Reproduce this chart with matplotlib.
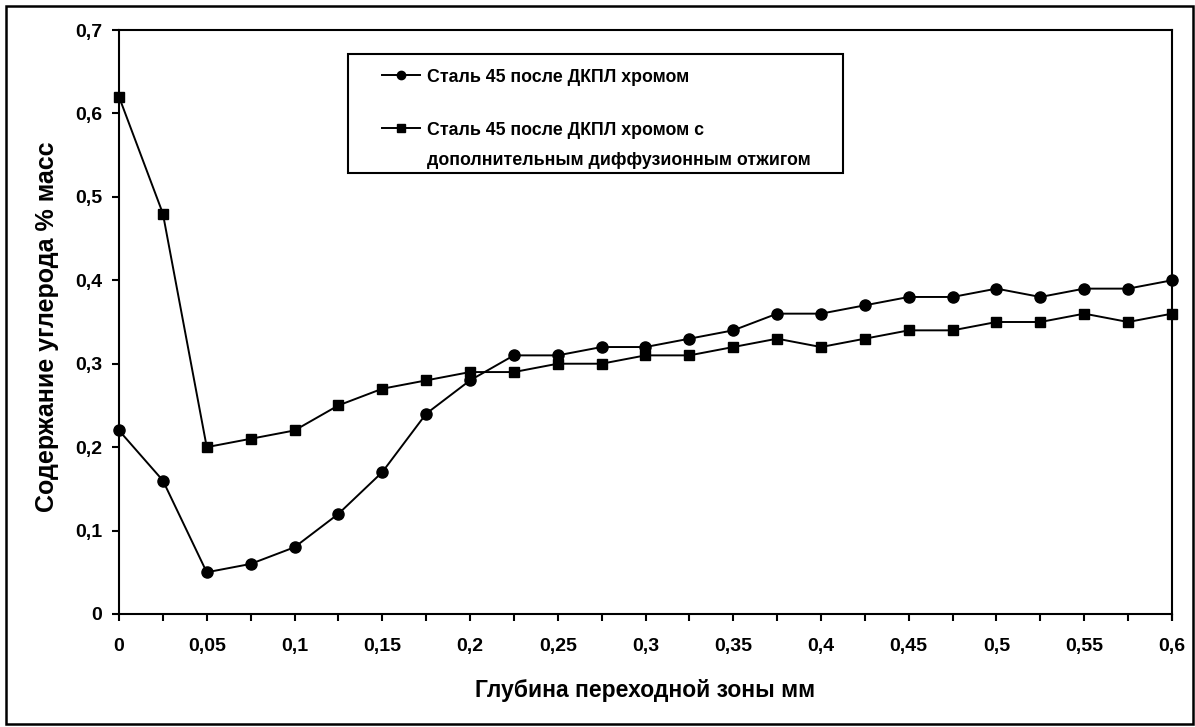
import numpy as np
import matplotlib.pyplot as plt
from matplotlib.patches import Rectangle
from matplotlib.lines import Line2D

# depth, mm
depth = [0, 0.025, 0.05, 0.075, 0.1, 0.125, 0.15, 0.175, 0.2, 0.225, 0.25,
         0.275, 0.3, 0.325, 0.35, 0.375, 0.4, 0.425, 0.45, 0.475, 0.5,
         0.525, 0.55, 0.575, 0.6]
# steel 45 after laser alloying with chromium
carbon_dkpl = [0.22, 0.16, 0.05, 0.06, 0.08, 0.12, 0.17, 0.24, 0.28, 0.31, 0.31,
               0.32, 0.32, 0.33, 0.34, 0.36, 0.36, 0.37, 0.38, 0.38, 0.39,
               0.38, 0.39, 0.39, 0.40]
# same + diffusion annealing
carbon_anneal = [0.62, 0.48, 0.20, 0.21, 0.22, 0.25, 0.27, 0.28, 0.29, 0.29, 0.30,
                 0.30, 0.31, 0.31, 0.32, 0.33, 0.32, 0.33, 0.34, 0.34, 0.35,
                 0.35, 0.36, 0.35, 0.36]
labels = ['Сталь 45 после ДКПЛ хромом',
          ['Сталь 45 после ДКПЛ хромом с', 'дополнительным диффузионным отжигом']]
xticks = [i * 0.025 for i in range(25)]
yticks = [i * 0.1 for i in range(8)]

plt.rcParams['font.family'] = ['Liberation Sans', 'DejaVu Sans']
plt.rcParams['font.weight'] = 'bold'

W, H = 1195, 727

def comma(v):
    s = ('%.2f' % v).rstrip('0').rstrip('.')
    return s.replace('.', ',')

def fx(px):
    return px / W

def fy(py):
    return 1 - py / H

fig = plt.figure(figsize=(W / 100, H / 100), dpi=100)
ax = fig.add_axes([fx(119), fy(614), (1172 - 119) / W, (614 - 30) / H])

ax.plot(depth, carbon_dkpl, color='black', lw=1.4, marker='o', ms=8,
        clip_on=False, zorder=3)
ax.plot(depth, carbon_anneal, color='black', lw=1.4, marker='s', ms=7.5,
        clip_on=False, zorder=3)

ax.set_xlim(0, 0.6)
ax.set_ylim(0, 0.7)
ax.set_xticks(xticks + [0.6])
ax.set_xticklabels([comma(v) if i % 2 == 0 else '' for i, v in enumerate(xticks + [0.6])])
ax.set_yticks(yticks)
ax.set_yticklabels([comma(v) for v in yticks])
ax.tick_params(direction='out', length=5, width=1.5, labelsize=14)
ax.tick_params(axis='x', pad=12)
ax.tick_params(axis='y', pad=7)
for s in ax.spines.values():
    s.set_linewidth(1.5)
for t in ax.get_xticklabels() + ax.get_yticklabels():
    t.set_fontweight('bold')

fig.text(fx(645), fy(690), 'Глубина переходной зоны мм', ha='center', va='center',
         fontsize=16.5, fontweight='bold')
fig.text(fx(47), fy(327), 'Содержание углерода % масс', ha='center', va='center',
         rotation=90, fontsize=18, fontweight='bold')

# legend box drawn by hand so the handle lines up with the first text line
fig.patches.append(Rectangle((fx(348), fy(173)), (843 - 348) / W, (173 - 54) / H,
                             transform=fig.transFigure, fill=False,
                             edgecolor='black', lw=1.5, zorder=5))
rows = [(75, 'o', 6, [labels[0]]), (128, 's', 5.5, labels[1])]
for yc, mk, ms, lines in rows:
    fig.lines.append(Line2D([fx(382), fx(420)], [fy(yc), fy(yc)], color='black', lw=1.4,
                            transform=fig.transFigure))
    fig.lines.append(Line2D([fx(401)], [fy(yc)], color='black', marker=mk, ms=ms,
                            transform=fig.transFigure))
    for k, line in enumerate(lines):
        fig.text(fx(427), fy(yc + 7 + 30 * k), line, ha='left', va='baseline',
                 fontsize=12.8, fontweight='bold')

fig.patches.append(Rectangle((fx(6), fy(724)), (1193 - 6) / W, (724 - 6) / H,
                             transform=fig.transFigure, fill=False,
                             edgecolor='black', lw=1.8))

fig.savefig('out.png', dpi=100)
